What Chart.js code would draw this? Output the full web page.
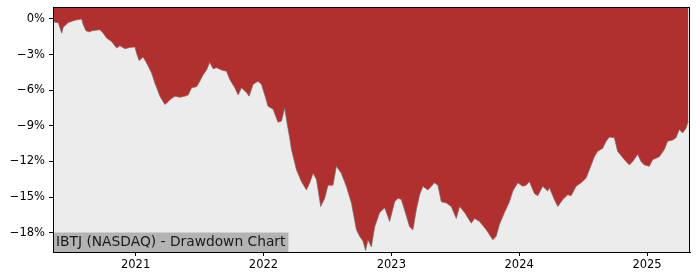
<!DOCTYPE html>
<html>
<head>
<meta charset="utf-8">
<script src="https://cdn.jsdelivr.net/npm/chart.js@4/dist/chart.umd.min.js"></script>
<style>
  html, body { margin: 0; padding: 0; background: #fff; }
  #wrap { width: 700px; height: 280px; }
</style>
</head>
<body>
<div id="wrap"><canvas id="ddChart" width="700" height="280"></canvas></div>
<script>
// Drawdown series, x in decimal years, y in percent.
const dates = [
  2020.354, 2020.370, 2020.395, 2020.422, 2020.434, 2020.473, 2020.526, 2020.578,
  2020.591, 2020.612, 2020.643, 2020.656, 2020.721, 2020.747, 2020.773, 2020.812,
  2020.852, 2020.877, 2020.916, 2020.955, 2020.995, 2021.008, 2021.028, 2021.059,
  2021.086, 2021.125, 2021.151, 2021.190, 2021.229, 2021.242, 2021.268, 2021.307,
  2021.346, 2021.385, 2021.411, 2021.438, 2021.477, 2021.502, 2021.528, 2021.555,
  2021.580, 2021.606, 2021.633, 2021.672, 2021.711, 2021.737, 2021.776, 2021.802,
  2021.828, 2021.867, 2021.888, 2021.919, 2021.958, 2021.984, 2022.010, 2022.036,
  2022.075, 2022.114, 2022.141, 2022.166, 2022.184, 2022.205, 2022.219, 2022.258,
  2022.297, 2022.336, 2022.362, 2022.388, 2022.414, 2022.448, 2022.479, 2022.505,
  2022.544, 2022.570, 2022.609, 2022.648, 2022.688, 2022.727, 2022.752, 2022.778,
  2022.799, 2022.817, 2022.844, 2022.870, 2022.909, 2022.948, 2022.987, 2023.026,
  2023.052, 2023.078, 2023.104, 2023.143, 2023.169, 2023.195, 2023.221, 2023.247,
  2023.286, 2023.338, 2023.364, 2023.391, 2023.430, 2023.469, 2023.508, 2023.534,
  2023.573, 2023.625, 2023.651, 2023.690, 2023.742, 2023.794, 2023.820, 2023.846,
  2023.885, 2023.924, 2023.950, 2023.989, 2024.028, 2024.055, 2024.080, 2024.119,
  2024.145, 2024.184, 2024.223, 2024.236, 2024.275, 2024.302, 2024.341, 2024.380,
  2024.406, 2024.445, 2024.484, 2024.523, 2024.549, 2024.588, 2024.614, 2024.653,
  2024.680, 2024.705, 2024.744, 2024.770, 2024.823, 2024.862, 2024.888, 2024.927,
  2024.953, 2024.979, 2025.018, 2025.044, 2025.096, 2025.135, 2025.161, 2025.200,
  2025.227, 2025.252, 2025.278, 2025.305, 2025.323,
];
const drawdown = [
  0.0, -0.3, -0.3, -1.2, -0.7, -0.3, -0.1, 0.0,
  -0.5, -1.0, -1.1, -1.0, -0.9, -1.2, -1.6, -1.9,
  -2.45, -2.25, -2.5, -2.4, -2.35, -2.9, -3.5, -3.2,
  -3.7, -4.55, -5.4, -6.5, -7.2, -7.1, -6.8, -6.5,
  -6.6, -6.5, -6.4, -5.8, -5.7, -5.25, -4.7, -4.3,
  -3.65, -4.2, -4.1, -4.3, -4.4, -5.1, -5.8, -6.4,
  -5.8, -6.2, -6.5, -5.5, -5.25, -5.5, -6.4, -7.35,
  -7.6, -8.7, -8.6, -7.5, -8.75, -10.0, -11.0, -12.7,
  -13.7, -14.4, -13.8, -13.0, -13.5, -15.8, -15.1, -14.0,
  -14.0, -12.4, -13.0, -14.1, -15.5, -17.75, -18.3, -18.7,
  -19.5, -18.6, -19.2, -17.5, -16.3, -15.9, -17.05, -15.4,
  -15.1, -15.2, -16.1, -17.5, -17.75, -16.1, -14.8, -14.1,
  -14.4, -13.8, -14.0, -15.4, -15.5, -15.8, -16.8, -15.8,
  -16.3, -17.2, -16.8, -17.05, -17.75, -18.6, -18.3, -17.3,
  -16.3, -15.4, -14.5, -13.8, -14.1, -14.0, -13.7, -14.7,
  -14.9, -14.1, -14.5, -14.2, -15.2, -15.8, -15.2, -14.8,
  -14.9, -14.1, -13.8, -13.4, -12.7, -11.6, -11.15, -10.9,
  -10.3, -9.95, -10.0, -11.15, -11.85, -12.3, -12.0, -11.4,
  -12.0, -12.3, -12.4, -11.85, -11.6, -11.0, -10.3, -10.2,
  -10.0, -9.3, -9.6, -9.2, -8.6,
];
const yearTicks = [2021, 2022, 2023, 2024, 2025];
const pctTicks = [0, -3, -6, -9, -12, -15, -18];
const chartTitle = "IBTJ (NASDAQ) - Drawdown Chart";

const FONT = "'DejaVu Sans', sans-serif";

// Light grey plot background, black frame and the grey caption box.
const framePlugin = {
  id: "frame",
  beforeDatasetsDraw(chart) {
    const { ctx, chartArea: a } = chart;
    ctx.save();
    ctx.fillStyle = "#ececec";
    ctx.fillRect(a.left, a.top, a.right - a.left, a.bottom - a.top);
    ctx.restore();
  },
  afterDraw(chart) {
    const { ctx, chartArea: a } = chart;
    ctx.save();
    ctx.font = "13.8px " + FONT;
    const w = ctx.measureText(chartTitle).width;
    ctx.fillStyle = "#b3b3b3";
    ctx.fillRect(a.left, a.bottom - 19.5, w + 6, 19.5);
    ctx.fillStyle = "#1a1a1a";
    ctx.textBaseline = "middle";
    ctx.fillText(chartTitle, a.left + 3, a.bottom - 9.5);
    ctx.strokeStyle = "#000";
    ctx.lineWidth = 1;
    ctx.strokeRect(a.left + 0.5, a.top + 0.5, a.right - a.left - 1, a.bottom - a.top);
    ctx.restore();
  },
};

new Chart(document.getElementById("ddChart").getContext("2d"), {
  type: "line",
  data: {
    datasets: [{
      data: dates.map((d, i) => ({ x: d, y: drawdown[i] })),
      borderColor: "rgba(110, 110, 110, 0.7)",
      borderWidth: 1,
      backgroundColor: "#b03030",
      fill: "end",
      pointRadius: 0,
      tension: 0,
    }],
  },
  options: {
    responsive: false,
    animation: false,
    layout: { padding: { top: 7, right: 10, left: 0, bottom: 0 } },
    plugins: { legend: { display: false }, tooltip: { enabled: false } },
    scales: {
      x: {
        type: "linear",
        min: 2020.354,
        max: 2025.336,
        afterBuildTicks: (s) => { s.ticks = yearTicks.map((v) => ({ value: v })); },
        afterFit: (s) => { s.height = 28; },
        grid: { drawOnChartArea: false, tickLength: 4, tickColor: "#000" },
        border: { color: "#000" },
        ticks: {
          color: "#000",
          font: { family: FONT, size: 11.5 },
          padding: 2,
          maxRotation: 0,
          callback: (v) => String(v),
        },
      },
      y: {
        min: -19.63,
        max: 1.01,
        afterBuildTicks: (s) => { s.ticks = pctTicks.map((v) => ({ value: v })); },
        afterFit: (s) => { s.width = 53; s.paddingTop = 0; s.paddingBottom = 0; },
        grid: { drawOnChartArea: false, tickLength: 4, tickColor: "#000" },
        border: { color: "#000" },
        ticks: {
          color: "#000",
          font: { family: FONT, size: 11.5 },
          padding: 4,
          callback: (v) => (v === 0 ? "0%" : "\u2212" + Math.abs(v) + "%"),
        },
      },
    },
  },
  plugins: [framePlugin],
});
</script>
</body>
</html>
